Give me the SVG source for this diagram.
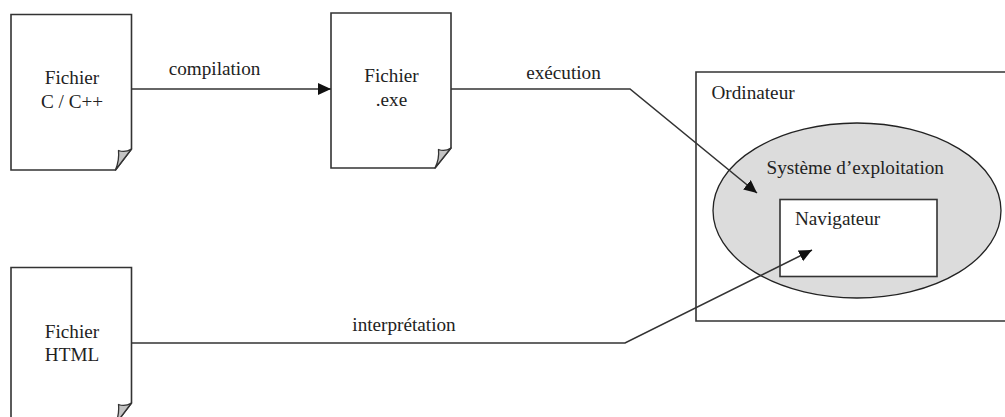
<svg xmlns="http://www.w3.org/2000/svg" width="1005" height="417" viewBox="0 0 1005 417">
<style>
text{font-family:"Liberation Serif","Times New Roman",serif;font-size:19.2px;fill:#222}
.m{text-anchor:middle}
.s{fill:#fff;stroke:#333;stroke-width:1.6}
.f{fill:#c4c4c4;stroke:#333;stroke-width:1.3;stroke-linejoin:round}
.c{fill:none;stroke:#333;stroke-width:1.6}
</style>
<defs>
<marker id="a" markerUnits="userSpaceOnUse" markerWidth="14" markerHeight="13" refX="13" refY="6" orient="auto"><path d="M0 0L13 6L0 12Z" fill="#111"/></marker>
</defs>
<rect width="1005" height="417" fill="#fff"/>
<g id="ordinateur">
<path class="s" d="M1006 72H696V321H1006"/>
<text x="711.5" y="99">Ordinateur</text>
</g>
<g id="systeme">
<ellipse cx="857" cy="210.5" rx="144" ry="87.5" fill="#dcdcdc" stroke="#222" stroke-width="1.3"/>
<text x="766.5" y="174">Système d’exploitation</text>
</g>
<g id="navigateur">
<rect class="s" x="780" y="199.5" width="157" height="77"/>
<text x="795" y="225">Navigateur</text>
</g>
<g id="fichier-c">
<path class="s" d="M11 14.500H131.500V149L115.500 170H11Z"/>
<path class="f" d="M131.500 149Q125 153 118.500 150.500Q119.500 160 115.500 170Z"/>
<text class="m" x="72" y="84">Fichier</text>
<text class="m" x="72" y="108">C / C++</text>
</g>
<g id="fichier-exe">
<path class="s" d="M331 13H451V148L435 168H331Z"/>
<path class="f" d="M451 148Q445 152 438.500 149.500Q439.500 159 435 168Z"/>
<text class="m" x="391.500" y="82">Fichier</text>
<text class="m" x="391.500" y="106">.exe</text>
</g>
<g id="fichier-html">
<path class="s" d="M11 267.500H131.500V403L115.500 424H11Z"/>
<path class="f" d="M131.500 403Q125 407 118.500 404.500Q119.500 414 115.500 424Z"/>
<text class="m" x="72" y="338">Fichier</text>
<text class="m" x="72" y="361">HTML</text>
</g>
<g id="connecteurs">
<path class="c" marker-end="url(#a)" d="M131.500 89H331"/>
<path class="c" marker-end="url(#a)" d="M451 89H630L757 193"/>
<path class="c" marker-end="url(#a)" d="M131.500 343H625L812 250"/>
<text class="m" x="214.500" y="75">compilation</text>
<text class="m" x="563.500" y="79">exécution</text>
<text class="m" x="404" y="331">interprétation</text>
</g>
</svg>
